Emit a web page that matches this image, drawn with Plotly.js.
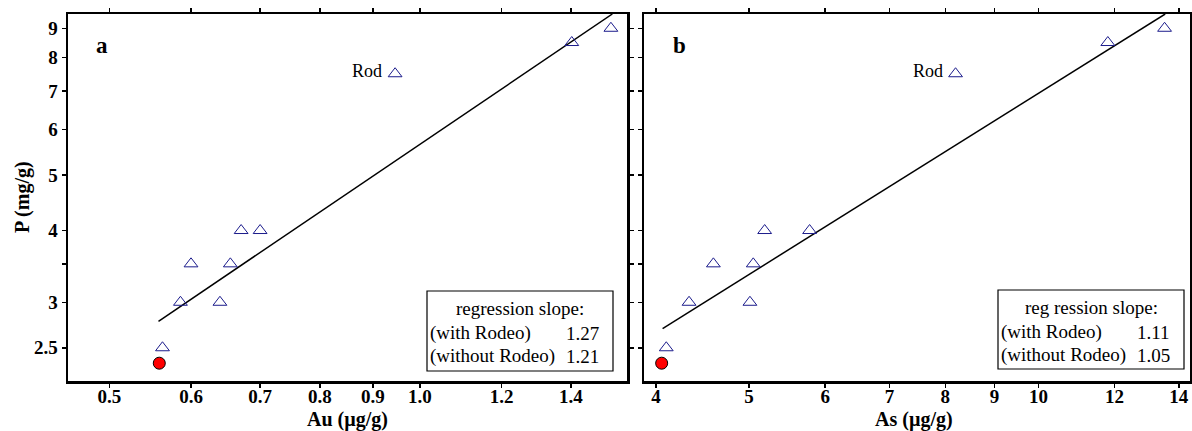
<!DOCTYPE html>
<html>
<head>
<meta charset="utf-8">
<script src="https://cdn.plot.ly/plotly-3.0.1.min.js"></script>
<style>html,body{margin:0;padding:0;background:#fff;}#chart{width:1192px;height:431px;}</style>
</head>
<body>
<div id="chart"></div>
<script>
// ---- data ----
const pValues   = [2.5, 3.0, 3.5, 3.0, 3.5, 4.0, 4.0, 7.5, 8.5, 9.0];
const auValues  = [0.563, 0.586, 0.600, 0.640, 0.655, 0.671, 0.700, 0.946, 1.403, 1.531];
const asValues  = [4.10, 4.33, 4.59, 5.01, 5.05, 5.19, 5.78, 8.20, 11.81, 13.53];
const redAu = [0.559], redAs = [4.055], redP = [2.35];
const fitAuX = [0.558, 1.536], fitAuP = [2.78, 9.53];
const fitAsX = [4.064, 13.55], fitAsP = [2.70, 9.53];
const yTicks = [2.5, 3, 3.5, 4, 5, 6, 7, 8, 9];
const yTickText = ['2.5', '3', '', '4', '5', '6', '7', '8', '9'];
const auTicks = [0.5, 0.6, 0.7, 0.8, 0.9, 1.0, 1.2, 1.4];
const auTickText = ['0.5', '0.6', '0.7', '0.8', '0.9', '1.0', '1.2', '1.4'];
const asTicks = [4, 5, 6, 7, 8, 9, 10, 12, 14];
const asTickText = ['4', '5', '6', '7', '8', '9', '10', '12', '14'];
const rodIndex = 7;
const slopesAu = ['1.27', '1.21'];
const slopesAs = ['1.11', '1.05'];

// ---- layout helpers ----
const W = 1192, H = 431, ML = 68, MR = 2, MT = 14, MB = 50;
const PW = W - ML - MR, PH = H - MT - MB;
const px = x => (x - ML) / PW;
const py = y => (H - MB - y) / PH;
const serif = '"Liberation Serif", "Times New Roman", Times, serif';
const navy = '#1c1c8c';

const tri = {symbol: 'triangle-up-open', size: 12, color: navy, line: {color: navy, width: 1}};
const dot = {symbol: 'circle', size: 12, color: '#ff0000', line: {color: '#000', width: 1}};

const traces = [
  {x: fitAuX, y: fitAuP, xaxis: 'x', yaxis: 'y', mode: 'lines', line: {color: '#000', width: 1.5}},
  {x: auValues, y: pValues, xaxis: 'x', yaxis: 'y', mode: 'markers', marker: tri},
  {x: redAu, y: redP, xaxis: 'x', yaxis: 'y', mode: 'markers', marker: dot},
  {x: fitAsX, y: fitAsP, xaxis: 'x2', yaxis: 'y2', mode: 'lines', line: {color: '#000', width: 1.5}},
  {x: asValues, y: pValues, xaxis: 'x2', yaxis: 'y2', mode: 'markers', marker: tri},
  {x: redAs, y: redP, xaxis: 'x2', yaxis: 'y2', mode: 'markers', marker: dot}
];

const tickFont = {family: serif, size: 19, color: '#000', weight: 'bold'};
const axisBase = {
  type: 'log', showgrid: false, zeroline: false, showline: true, linecolor: '#000', linewidth: 2.5,
  mirror: 'allticks', ticks: 'outside', ticklen: 4, tickwidth: 1.5, tickcolor: '#000',
  tickmode: 'array', tickfont: tickFont, fixedrange: true
};
const yRange = [Math.log10(2.188), Math.log10(9.53)];

function txt(x, y, text, font, xanchor, extra) {
  return Object.assign({xref: 'paper', yref: 'paper', x: px(x), y: py(y), text: text, showarrow: false,
    font: font, xanchor: xanchor || 'center', yanchor: 'middle'}, extra || {});
}

function boxAnn(x0, x1, y0, label, slopes) {
  const f = {family: serif, size: 19, color: '#000'};
  return [
    txt((x0 + x1) / 2, y0 + 17, label, f, 'center'),
    txt(x0 + 1, y0 + 42, '(with Rodeo)', f, 'left'),
    txt(x1 - 12, y0 + 42, slopes[0], f, 'right'),
    txt(x0 + 1, y0 + 65, '(without Rodeo)', f, 'left'),
    txt(x1 - 12, y0 + 65, slopes[1], f, 'right')
  ];
}

const titleFont = {family: serif, size: 20, color: '#000', weight: 'bold'};
const letterFont = {family: serif, size: 23, color: '#000', weight: 'bold'};
const rodFont = {family: serif, size: 18, color: '#000'};
const annotations = [
  txt(22, 197, 'P (mg/g)', titleFont, 'center', {textangle: -90}),
  txt(347.5, 420, 'Au (µg/g)', titleFont, 'center'),
  txt(914, 420, 'As (µg/g)', titleFont, 'center'),
  txt(102, 45, 'a', letterFont, 'center'),
  txt(679, 45, 'b', letterFont, 'center'),
  {xref: 'x', yref: 'y', x: Math.log10(auValues[rodIndex]), y: Math.log10(pValues[rodIndex]), text: 'Rod', showarrow: false,
   xanchor: 'right', yanchor: 'middle', xshift: -11, yshift: 3, font: rodFont},
  {xref: 'x2', yref: 'y2', x: Math.log10(asValues[rodIndex]), y: Math.log10(pValues[rodIndex]), text: 'Rod', showarrow: false,
   xanchor: 'right', yanchor: 'middle', xshift: -11, yshift: 3, font: rodFont}
].concat(boxAnn(427, 613, 291, 'regression slope:', slopesAu))
 .concat(boxAnn(998, 1184, 290, 'reg ression slope:', slopesAs));

const shapes = [
  {type: 'rect', xref: 'paper', yref: 'paper', x0: px(427), x1: px(613), y0: py(371), y1: py(291), line: {color: '#000', width: 1.2}, fillcolor: '#fff', layer: 'above'},
  {type: 'rect', xref: 'paper', yref: 'paper', x0: px(998), x1: px(1184), y0: py(369), y1: py(290), line: {color: '#000', width: 1.2}, fillcolor: '#fff', layer: 'above'}
];

const layout = {
  width: W, height: H, margin: {l: ML, r: MR, t: MT, b: MB},
  paper_bgcolor: '#fff', plot_bgcolor: '#fff', showlegend: false,
  font: {family: serif},
  xaxis: Object.assign({}, axisBase, {domain: [0, px(627)], range: [Math.log10(0.456), Math.log10(1.587)],
    tickvals: auTicks, ticktext: auTickText, anchor: 'y', ticklabelstandoff: -7}),
  yaxis: Object.assign({}, axisBase, {domain: [0, 1], range: yRange, tickvals: yTicks, ticktext: yTickText, anchor: 'x'}),
  xaxis2: Object.assign({}, axisBase, {domain: [px(644), 1], range: [Math.log10(3.887), Math.log10(14.38)],
    tickvals: asTicks, ticktext: asTickText, anchor: 'y2', ticklabelstandoff: -7}),
  yaxis2: Object.assign({}, axisBase, {domain: [0, 1], range: yRange, tickvals: yTicks, showticklabels: false, anchor: 'x2'}),
  annotations: annotations,
  shapes: shapes
};

Plotly.newPlot('chart', traces, layout, {displayModeBar: false, staticPlot: true});
</script>
</body>
</html>
